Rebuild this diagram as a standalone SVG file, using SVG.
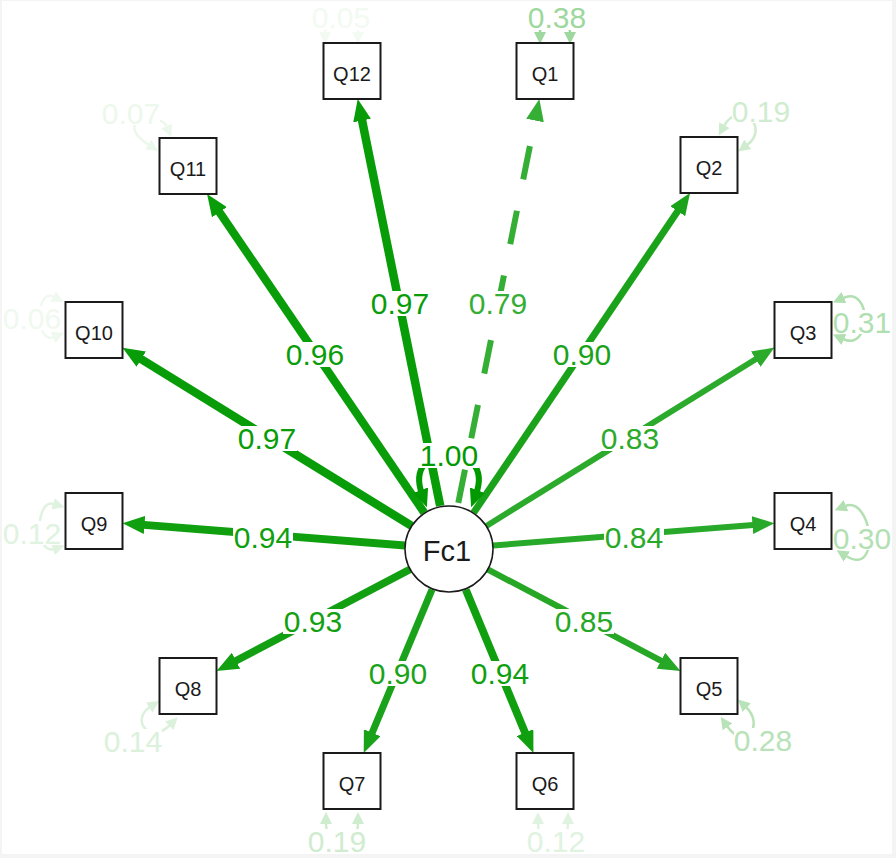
<svg xmlns="http://www.w3.org/2000/svg" width="896" height="858" viewBox="0 0 896 858">
<defs>
<style>
.box{fill:#fff;stroke:#1a1a1a;stroke-width:2}
.lat{fill:#fff;stroke:#1a1a1a;stroke-width:1.5}
.nl{font-family:"Liberation Sans",Arial,sans-serif;font-size:20px;fill:#1a1a1a;text-anchor:middle}
.fl{font-family:"Liberation Sans",Arial,sans-serif;font-size:29px;fill:#1a1a1a;text-anchor:middle}
.el{font-family:"Liberation Sans",Arial,sans-serif;font-size:30px;text-anchor:middle}
.bg{fill:#fff}
.edge{fill:none;stroke-linecap:butt}
.res{fill:none;stroke-width:2.5}
</style>
<marker id="m97" viewBox="0 -9 22 18" refX="7" refY="0" markerWidth="22" markerHeight="18" markerUnits="userSpaceOnUse" orient="auto"><path d="M0,-9L22,0L0,9z" fill="#089C08"/></marker>
<marker id="m96" viewBox="0 -9 22 18" refX="7" refY="0" markerWidth="22" markerHeight="18" markerUnits="userSpaceOnUse" orient="auto"><path d="M0,-9L22,0L0,9z" fill="#0A9D0A"/></marker>
<marker id="m94" viewBox="0 -9 22 18" refX="7" refY="0" markerWidth="22" markerHeight="18" markerUnits="userSpaceOnUse" orient="auto"><path d="M0,-9L22,0L0,9z" fill="#0F9F0F"/></marker>
<marker id="m93" viewBox="0 -9 22 18" refX="7" refY="0" markerWidth="22" markerHeight="18" markerUnits="userSpaceOnUse" orient="auto"><path d="M0,-9L22,0L0,9z" fill="#12A012"/></marker>
<marker id="m90" viewBox="0 -9 22 18" refX="7" refY="0" markerWidth="22" markerHeight="18" markerUnits="userSpaceOnUse" orient="auto"><path d="M0,-9L22,0L0,9z" fill="#1AA31A"/></marker>
<marker id="m85" viewBox="0 -9 22 18" refX="7" refY="0" markerWidth="22" markerHeight="18" markerUnits="userSpaceOnUse" orient="auto"><path d="M0,-9L22,0L0,9z" fill="#26A826"/></marker>
<marker id="m84" viewBox="0 -9 22 18" refX="7" refY="0" markerWidth="22" markerHeight="18" markerUnits="userSpaceOnUse" orient="auto"><path d="M0,-9L22,0L0,9z" fill="#29A929"/></marker>
<marker id="m83" viewBox="0 -9 22 18" refX="7" refY="0" markerWidth="22" markerHeight="18" markerUnits="userSpaceOnUse" orient="auto"><path d="M0,-9L22,0L0,9z" fill="#2BAA2B"/></marker>
<marker id="m79" viewBox="0 -9 22 18" refX="7" refY="0" markerWidth="22" markerHeight="18" markerUnits="userSpaceOnUse" orient="auto"><path d="M0,-9L22,0L0,9z" fill="#35AE35"/></marker>
<marker id="m100" viewBox="0 -8 18 16" refX="4" refY="0" markerWidth="18" markerHeight="16" markerUnits="userSpaceOnUse" orient="auto-start-reverse"><path d="M0,-8L18,0L0,8z" fill="#009900"/></marker>
<marker id="r38" viewBox="0 -6 12 12" refX="1" refY="0" markerWidth="12" markerHeight="12" markerUnits="userSpaceOnUse" orient="auto-start-reverse"><path d="M0,-6L12,0L0,6z" fill="#9ED89E"/></marker>
<marker id="r31" viewBox="0 -6 12 12" refX="1" refY="0" markerWidth="12" markerHeight="12" markerUnits="userSpaceOnUse" orient="auto-start-reverse"><path d="M0,-6L12,0L0,6z" fill="#B0DFB0"/></marker>
<marker id="r30" viewBox="0 -6 12 12" refX="1" refY="0" markerWidth="12" markerHeight="12" markerUnits="userSpaceOnUse" orient="auto-start-reverse"><path d="M0,-6L12,0L0,6z" fill="#B3E0B3"/></marker>
<marker id="r28" viewBox="0 -6 12 12" refX="1" refY="0" markerWidth="12" markerHeight="12" markerUnits="userSpaceOnUse" orient="auto-start-reverse"><path d="M0,-6L12,0L0,6z" fill="#B8E2B8"/></marker>
<marker id="r19" viewBox="0 -6 12 12" refX="1" refY="0" markerWidth="12" markerHeight="12" markerUnits="userSpaceOnUse" orient="auto-start-reverse"><path d="M0,-6L12,0L0,6z" fill="#CFECCF"/></marker>
<marker id="r14" viewBox="0 -6 12 12" refX="1" refY="0" markerWidth="12" markerHeight="12" markerUnits="userSpaceOnUse" orient="auto-start-reverse"><path d="M0,-6L12,0L0,6z" fill="#DBF1DB"/></marker>
<marker id="r12" viewBox="0 -6 12 12" refX="1" refY="0" markerWidth="12" markerHeight="12" markerUnits="userSpaceOnUse" orient="auto-start-reverse"><path d="M0,-6L12,0L0,6z" fill="#E0F3E0"/></marker>
<marker id="r07" viewBox="0 -6 12 12" refX="1" refY="0" markerWidth="12" markerHeight="12" markerUnits="userSpaceOnUse" orient="auto-start-reverse"><path d="M0,-6L12,0L0,6z" fill="#EDF8ED"/></marker>
<marker id="r06" viewBox="0 -6 12 12" refX="1" refY="0" markerWidth="12" markerHeight="12" markerUnits="userSpaceOnUse" orient="auto-start-reverse"><path d="M0,-6L12,0L0,6z" fill="#F0F9F0"/></marker>
<marker id="r05" viewBox="0 -6 12 12" refX="1" refY="0" markerWidth="12" markerHeight="12" markerUnits="userSpaceOnUse" orient="auto-start-reverse"><path d="M0,-6L12,0L0,6z" fill="#F2FAF2"/></marker>
</defs>
<rect x="0" y="0" width="896" height="858" fill="#f4f4f4"/>
<rect x="2" y="1" width="890" height="853" fill="#ffffff"/>

<g id="connectors">
  <line class="edge" x1="440.2" y1="505.9" x2="360.7" y2="113.7" stroke="#089C08" stroke-width="8.5" marker-end="url(#m97)"/>
  <line class="edge" x1="457.7" y1="505.9" x2="536.4" y2="113.7" stroke="#35AE35" stroke-width="6" stroke-linecap="round" stroke-dasharray="34 32" stroke-dashoffset="-3" marker-end="url(#m79)"/>
  <line class="edge" x1="473.7" y1="512.6" x2="681.6" y2="205.4" stroke="#1AA31A" stroke-width="7" marker-end="url(#m90)"/>
  <line class="edge" x1="424.2" y1="512.6" x2="215.5" y2="206.4" stroke="#0A9D0A" stroke-width="8.2" marker-end="url(#m96)"/>
  <line class="edge" x1="486.4" y1="525.9" x2="761.7" y2="355.5" stroke="#2BAA2B" stroke-width="5.9" marker-end="url(#m83)"/>
  <line class="edge" x1="411.6" y1="525.9" x2="135.3" y2="355.5" stroke="#089C08" stroke-width="8.5" marker-end="url(#m97)"/>
  <line class="edge" x1="492.9" y1="545.5" x2="759.5" y2="524.5" stroke="#29A929" stroke-width="6" marker-end="url(#m84)"/>
  <line class="edge" x1="405.1" y1="545.5" x2="137.5" y2="524.4" stroke="#0F9F0F" stroke-width="7.8" marker-end="url(#m94)"/>
  <line class="edge" x1="487.9" y1="569.5" x2="667.2" y2="664" stroke="#26A826" stroke-width="6.2" marker-end="url(#m85)"/>
  <line class="edge" x1="410" y1="569.4" x2="229.8" y2="664" stroke="#12A012" stroke-width="7.5" marker-end="url(#m93)"/>
  <line class="edge" x1="465.8" y1="589.7" x2="527.7" y2="739.1" stroke="#0F9F0F" stroke-width="7.8" marker-end="url(#m94)"/>
  <line class="edge" x1="432" y1="589.6" x2="369.5" y2="739.2" stroke="#1AA31A" stroke-width="7" marker-end="url(#m90)"/>
  <path class="edge" d="M422,494 C402,440 496,440 476,494" stroke="#009900" stroke-width="6" marker-start="url(#m100)" marker-end="url(#m100)"/>

  <path class="res" d="M325,33 C325,8 358,8 358,33" stroke="#F2FAF2" marker-start="url(#r05)" marker-end="url(#r05)"/>
  <path class="res" d="M540,33 C540,8 570,8 570,33" stroke="#9ED89E" marker-start="url(#r38)" marker-end="url(#r38)"/>
  <path class="res" d="M724,126 C739,99 771,127 747,145" stroke="#CFECCF" marker-start="url(#r19)" marker-end="url(#r19)"/>
  <path class="res" d="M843,298 C872,285 872,352 843,339" stroke="#B0DFB0" marker-start="url(#r31)" marker-end="url(#r31)"/>
  <path class="res" d="M845,506 C872,495 882,578 846,556" stroke="#B3E0B3" marker-start="url(#r30)" marker-end="url(#r30)"/>
  <path class="res" d="M746,707 C765,725 745,752 727,726" stroke="#B8E2B8" marker-start="url(#r28)" marker-end="url(#r28)"/>
  <path class="res" d="M538,823 C538,850 568,850 568,823" stroke="#E0F3E0" marker-start="url(#r12)" marker-end="url(#r12)"/>
  <path class="res" d="M326,823 C326,850 358,850 358,823" stroke="#CFECCF" marker-start="url(#r19)" marker-end="url(#r19)"/>
  <path class="res" d="M150,707 C130,720 150,745 170,725" stroke="#DBF1DB" marker-start="url(#r14)" marker-end="url(#r14)"/>
  <path class="res" d="M54,504 C35,498 35,555 54,549" stroke="#E0F3E0" marker-start="url(#r12)" marker-end="url(#r12)"/>
  <path class="res" d="M54,297 C35,287 35,345 54,337" stroke="#F0F9F0" marker-start="url(#r06)" marker-end="url(#r06)"/>
  <path class="res" d="M167,127 C160,110 110,120 149,145" stroke="#EDF8ED" marker-start="url(#r07)" marker-end="url(#r07)"/>
</g>

<g id="edge-labels">
  <rect class="bg" x="370" y="291" width="60" height="25"/><text class="el" x="400" y="313.5" fill="#089C08">0.97</text>
  <rect class="bg" x="468" y="291" width="60" height="25"/><text class="el" x="498" y="313.5" fill="#35AE35">0.79</text>
  <rect class="bg" x="285" y="342" width="60" height="25"/><text class="el" x="315" y="364.5" fill="#0A9D0A">0.96</text>
  <rect class="bg" x="552" y="342" width="60" height="25"/><text class="el" x="582" y="364.5" fill="#1AA31A">0.90</text>
  <rect class="bg" x="237" y="426" width="60" height="25"/><text class="el" x="267" y="448.5" fill="#089C08">0.97</text>
  <rect class="bg" x="600" y="426" width="60" height="25"/><text class="el" x="630" y="448.5" fill="#2BAA2B">0.83</text>
  <rect class="bg" x="233" y="525" width="60" height="25"/><text class="el" x="263" y="547.5" fill="#0F9F0F">0.94</text>
  <rect class="bg" x="604" y="525" width="60" height="25"/><text class="el" x="634" y="547.5" fill="#29A929">0.84</text>
  <rect class="bg" x="283" y="609" width="60" height="25"/><text class="el" x="313" y="631.5" fill="#12A012">0.93</text>
  <rect class="bg" x="554" y="609" width="60" height="25"/><text class="el" x="584" y="631.5" fill="#26A826">0.85</text>
  <rect class="bg" x="368" y="661" width="60" height="25"/><text class="el" x="398" y="683.5" fill="#1AA31A">0.90</text>
  <rect class="bg" x="470" y="661" width="60" height="25"/><text class="el" x="500" y="683.5" fill="#0F9F0F">0.94</text>
  <rect class="bg" x="419" y="443" width="60" height="25"/><text class="el" x="449" y="465.5" fill="#009900">1.00</text>

  <rect class="bg" x="312" y="5" width="58" height="25"/><text class="el" x="341" y="28" fill="#F2FAF2">0.05</text>
  <rect class="bg" x="528" y="5" width="58" height="25"/><text class="el" x="557" y="28" fill="#9ED89E">0.38</text>
  <rect class="bg" x="732" y="99" width="58" height="24"/><text class="el" x="761" y="121.5" fill="#CFECCF">0.19</text>
  <rect class="bg" x="833" y="310" width="58" height="24"/><text class="el" x="862" y="332.5" fill="#B0DFB0">0.31</text>
  <rect class="bg" x="833" y="526" width="58" height="24"/><text class="el" x="862" y="548.5" fill="#B3E0B3">0.30</text>
  <rect class="bg" x="734" y="728" width="58" height="24"/><text class="el" x="763" y="750.5" fill="#B8E2B8">0.28</text>
  <rect class="bg" x="527" y="829" width="58" height="24"/><text class="el" x="556" y="851.5" fill="#E0F3E0">0.12</text>
  <rect class="bg" x="308" y="829" width="58" height="24"/><text class="el" x="337" y="851.5" fill="#CFECCF">0.19</text>
  <rect class="bg" x="104" y="729" width="58" height="24"/><text class="el" x="133" y="751.5" fill="#DBF1DB">0.14</text>
  <rect class="bg" x="3" y="521" width="58" height="24"/><text class="el" x="32" y="543.5" fill="#E0F3E0">0.12</text>
  <rect class="bg" x="3" y="306" width="58" height="24"/><text class="el" x="32" y="328.5" fill="#F0F9F0">0.06</text>
  <rect class="bg" x="102" y="101" width="58" height="24"/><text class="el" x="131" y="123.5" fill="#EDF8ED">0.07</text>
</g>

<g id="Fc1"><ellipse class="lat" cx="449" cy="549" rx="44" ry="43"/><text class="fl" x="447" y="561">Fc1</text></g>
<g id="Q1"><rect class="box" x="516.5" y="43" width="57" height="56"/><text class="nl" x="545" y="80.5">Q1</text></g>
<g id="Q2"><rect class="box" x="680.5" y="137" width="57" height="56"/><text class="nl" x="709" y="174.5">Q2</text></g>
<g id="Q3"><rect class="box" x="774.5" y="302" width="57" height="56"/><text class="nl" x="803" y="339.5">Q3</text></g>
<g id="Q4"><rect class="box" x="774.5" y="493" width="57" height="56"/><text class="nl" x="803" y="530.5">Q4</text></g>
<g id="Q5"><rect class="box" x="680.5" y="658" width="57" height="56"/><text class="nl" x="709" y="695.5">Q5</text></g>
<g id="Q6"><rect class="box" x="516.5" y="753" width="57" height="56"/><text class="nl" x="545" y="790.5">Q6</text></g>
<g id="Q7"><rect class="box" x="323.5" y="753" width="57" height="56"/><text class="nl" x="352" y="790.5">Q7</text></g>
<g id="Q8"><rect class="box" x="159.5" y="658" width="57" height="56"/><text class="nl" x="188" y="695.5">Q8</text></g>
<g id="Q9"><rect class="box" x="65.5" y="493" width="57" height="56"/><text class="nl" x="94" y="530.5">Q9</text></g>
<g id="Q10"><rect class="box" x="65.5" y="302" width="57" height="56"/><text class="nl" x="94" y="339.5">Q10</text></g>
<g id="Q11"><rect class="box" x="159.5" y="138" width="57" height="56"/><text class="nl" x="188" y="175.5">Q11</text></g>
<g id="Q12"><rect class="box" x="323.5" y="43" width="57" height="56"/><text class="nl" x="352" y="80.5">Q12</text></g>
</svg>
